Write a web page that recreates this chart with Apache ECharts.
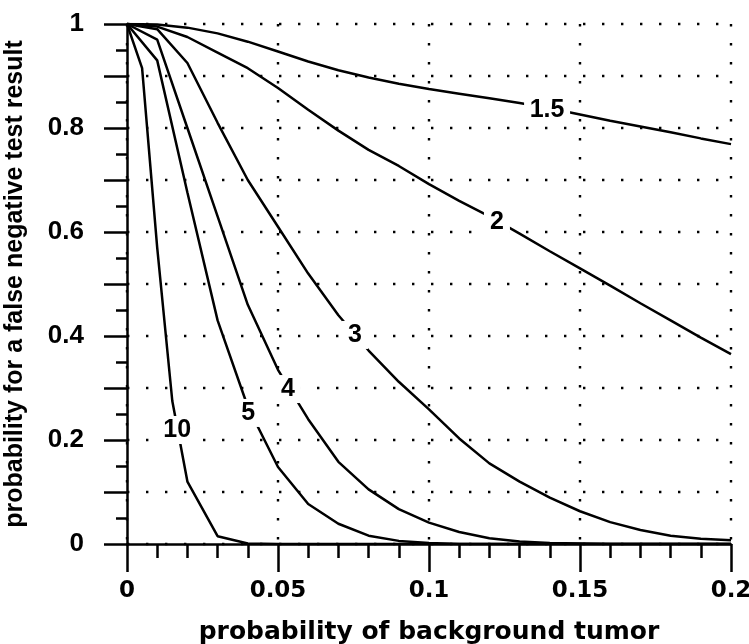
<!DOCTYPE html>
<html>
<head>
<meta charset="utf-8">
<script src="https://cdn.jsdelivr.net/npm/echarts@6/dist/echarts.min.js"></script>
<style>
  html, body { margin: 0; padding: 0; background: #fff; }
  #main { width: 749px; height: 644px; }
</style>
</head>
<body>
<div id="main"></div>
<script>
var myChart = echarts.init(document.getElementById('main'));

// x values (probability of background tumor)
var xs = [0, 0.01, 0.02, 0.03, 0.04, 0.05, 0.06, 0.07, 0.08, 0.09, 0.1,
          0.11, 0.12, 0.13, 0.14, 0.15, 0.16, 0.17, 0.18, 0.19, 0.2];
var xs10 = [0, 0.005, 0.01, 0.015, 0.02, 0.03, 0.04, 0.05, 0.1, 0.15, 0.2];

// curves
var y15 = [1, 0.999, 0.993, 0.982, 0.966, 0.947, 0.928, 0.911, 0.897, 0.885, 0.875,
           0.866, 0.857, 0.848, 0.838, 0.826, 0.814, 0.803, 0.792, 0.78, 0.769];
var y2  = [1, 0.995, 0.975, 0.945, 0.915, 0.877, 0.835, 0.795, 0.758, 0.727, 0.692,
           0.66, 0.63, 0.597, 0.563, 0.53, 0.497, 0.463, 0.43, 0.397, 0.365];
var y3  = [1, 0.99, 0.925, 0.81, 0.70, 0.61, 0.52, 0.44, 0.372, 0.312, 0.259,
           0.203, 0.155, 0.12, 0.089, 0.063, 0.042, 0.027, 0.016, 0.01, 0.007];
var y4  = [1, 0.97, 0.80, 0.63, 0.46, 0.335, 0.24, 0.158, 0.105, 0.067, 0.041,
           0.023, 0.011, 0.005, 0.002, 0.001, 0, 0, 0, 0, 0];
var y5  = [1, 0.93, 0.676, 0.43, 0.264, 0.148, 0.077, 0.039, 0.016, 0.006, 0.002,
           0, 0, 0, 0, 0, 0, 0, 0, 0, 0];
var y10 = [1, 0.915, 0.57, 0.275, 0.12, 0.015, 0.001, 0, 0, 0, 0];

var names = ['1.5', '2', '3', '4', '5', '10'];
// where each curve's label sits, in data units
var labelAt = [[0.1391, 0.835], [0.1225, 0.619], [0.0755, 0.402],
               [0.0533, 0.298], [0.0401, 0.252], [0.0166, 0.219]];
var labelSize = [[46, 28], [26, 28], [26, 28], [26, 28], [26, 28], [38, 28]];

function pairs(x, y) {
  return x.map(function (v, i) { return [v, y[i]]; });
}

var curves = [pairs(xs, y15), pairs(xs, y2), pairs(xs, y3),
              pairs(xs, y4), pairs(xs, y5), pairs(xs10, y10)];

var dotted = { color: '#000', width: 2.4, type: [2.4, 16.6] };
var font = 'Liberation Sans, Arial, sans-serif';
var wide = 'DejaVu Sans, sans-serif';

var option = {
  backgroundColor: '#fff',
  animation: false,
  grid: { left: 127, top: 24, right: 18, bottom: 100, containLabel: false, outerBoundsMode: 'none' },
  xAxis: {
    type: 'value',
    min: 0,
    max: 0.2,
    interval: 0.05,
    name: 'probability of background tumor',
    nameLocation: 'middle',
    nameGap: 76,
    nameTextStyle: { color: '#000', fontSize: 25, fontWeight: 'bold', fontFamily: wide },
    axisLine: { onZero: false, lineStyle: { color: '#000', width: 2.5 } },
    axisTick: { show: true, length: 28, lineStyle: { color: '#000', width: 2.5 } },
    minorTick: { show: true, splitNumber: 5, length: 14, lineStyle: { color: '#000', width: 2.5 } },
    axisLabel: { color: '#000', fontSize: 23, fontWeight: 'bold', fontFamily: wide, margin: 36 },
    splitLine: { show: true, lineStyle: dotted }
  },
  yAxis: {
    type: 'value',
    min: 0,
    max: 1,
    interval: 0.1,
    name: 'probability for a false negative test result',
    nameLocation: 'middle',
    nameGap: 99,
    nameTextStyle: { color: '#000', fontSize: 25, fontWeight: 'bold', fontFamily: font },
    axisLine: { onZero: false, lineStyle: { color: '#000', width: 2.5 } },
    axisTick: { show: true, length: 23, lineStyle: { color: '#000', width: 2.5 } },
    minorTick: { show: true, splitNumber: 2, length: 11, lineStyle: { color: '#000', width: 2.5 } },
    axisLabel: {
      color: '#000', fontSize: 26, fontWeight: 'bold', fontFamily: font, margin: 43,
      formatter: function (v) {
        var k = Math.round(v * 10);
        return k % 2 === 0 ? String(k / 10) : '';
      }
    },
    splitLine: { show: true, lineStyle: dotted }
  },
  series: curves.map(function (d, i) {
    return {
      name: names[i],
      type: 'line',
      data: d,
      showSymbol: false,
      lineStyle: { color: '#000', width: 2.5 },
      z: 3,
      markPoint: {
        symbol: 'rect',
        symbolSize: labelSize[i],
        itemStyle: { color: '#fff' },
        label: {
          show: true,
          formatter: names[i],
          color: '#000',
          fontSize: 25,
          fontWeight: 'bold',
          fontFamily: font
        },
        data: [{ coord: labelAt[i] }]
      }
    };
  })
};

myChart.setOption(option);
</script>
</body>
</html>
